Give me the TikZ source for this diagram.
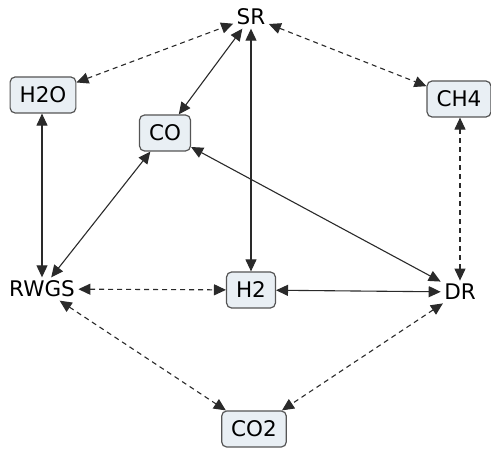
\documentclass[tikz,border=0pt]{standalone}
\usepackage{fontspec}
\setmainfont{DejaVu Sans}
\usetikzlibrary{arrows.meta}
\definecolor{boxfill}{HTML}{E9EFF4}
\definecolor{boxline}{HTML}{555555}
\definecolor{linkline}{HTML}{2A2A2A}

\begin{document}
\begin{tikzpicture}[x=1pt,y=-1pt,line width=1.1pt,
  species/.style={draw=boxline,fill=boxfill,rounded corners=5pt,line width=1.2pt,inner xsep=9.5pt,minimum height=36pt,font=\fontsize{21.5}{26}\selectfont},
  reaction/.style={inner sep=3pt,font=\fontsize{21.5}{26}\selectfont},
  link/.style={draw=linkline,{Triangle[length=12pt,width=11pt]}-{Triangle[length=12pt,width=11pt]}},
  weak/.style={link,dash pattern=on 5pt off 4pt}]
\path[use as bounding box] (0,0) rectangle (491,449);
\node[reaction] (sr) at (251,17) {SR};
\node[reaction] (rwgs) at (42,289) {RWGS};
\node[reaction] (dr) at (460,292) {DR};
\node[species] (h2o) at (43,95) {H2O};
\node[species] (co) at (165,133) {CO};
\node[species] (ch4) at (459,99) {CH4};
\node[species] (h2) at (251,290) {H2};
\node[species] (co2) at (254,429) {CO2};
\draw[weak] (h2o) -- (sr);
\draw[weak] (sr) -- (ch4);
\draw[link] (sr) -- (co);
\draw[link] (sr) -- (h2);
\draw[link] (h2o.south -| rwgs) -- (rwgs);
\draw[link] (co) -- (rwgs);
\draw[link] (co) -- (dr);
\draw[weak] (ch4.south -| dr) -- (dr);
\draw[weak] (rwgs) -- (h2);
\draw[link] (h2) -- (dr);
\draw[weak] (rwgs) -- (co2);
\draw[weak] (dr) -- (co2);
\end{tikzpicture}
\end{document}
